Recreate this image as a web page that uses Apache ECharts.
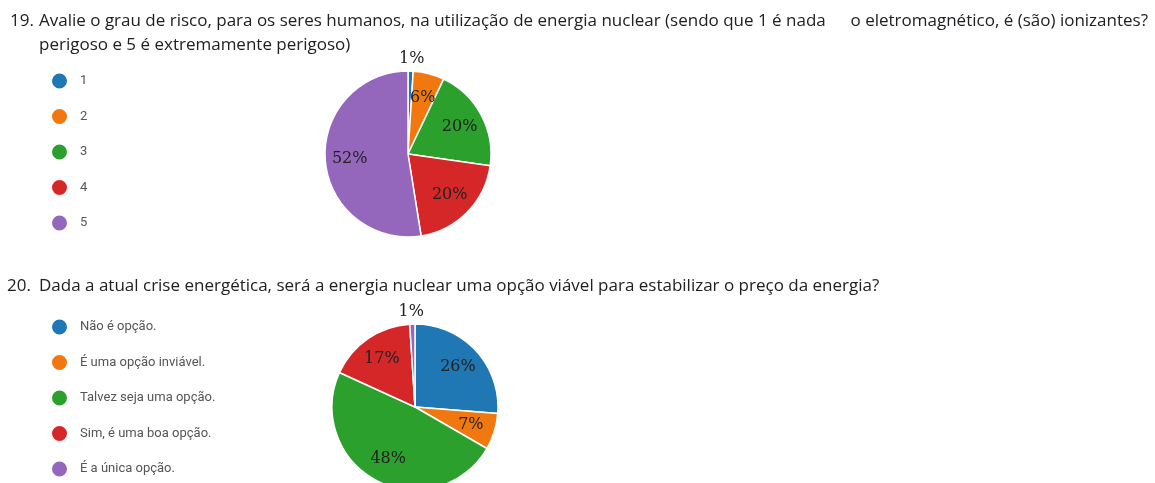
<!DOCTYPE html>
<html>
<head>
<meta charset="utf-8">
<script src="https://cdn.jsdelivr.net/npm/echarts@6/dist/echarts.min.js"></script>
<style>
  html, body { margin: 0; padding: 0; background: #fff; }
  #chart { width: 1155px; height: 483px; }
</style>
</head>
<body>
<div id="chart"></div>
<script>
// pergunta 19
var q19Labels = ['1', '2', '3', '4', '5'];
var q19Values = [1, 6, 20, 20, 52];
// pergunta 20
var q20Labels = ['Não é opção.', 'É uma opção inviável.', 'Talvez seja uma opção.', 'Sim, é uma boa opção.', 'É a única opção.'];
var q20Values = [26, 7, 48, 17, 1];

var colors = ['#1f77b4', '#f0780e', '#2ca02c', '#d62728', '#9467bd'];
var titleFont = '17px "Open Sans", "Noto Sans", sans-serif';
var labelFont = 'DejaVu Serif';

function toData(labels, values) {
  return labels.map(function (n, i) {
    return { name: n, value: values[i], itemStyle: { color: colors[i] } };
  });
}

// serie so para os rotulos (anel transparente, rotulos mais para fora)
function labelData(labels, values) {
  return labels.map(function (n, i) {
    var d = { name: n, value: values[i] };
    if (values[i] < 3) { // fatias pequenas: rotulo por fora, por cima
      d.label = { position: 'outside', distanceToLabelLine: -12 };
      d.labelLine = { show: false, length: 12, length2: 0 };
    }
    return d;
  });
}

function pieSeries(labels, values, center) {
  return {
    type: 'pie',
    center: center,
    radius: [0, 83],
    startAngle: 90,
    clockwise: true,
    silent: true,
    label: { show: false },
    labelLine: { show: false },
    itemStyle: { borderColor: '#fff', borderWidth: 1.5 },
    data: toData(labels, values)
  };
}

function pieLabels(labels, values, center) {
  return {
    type: 'pie',
    center: center,
    radius: [28, 83],
    startAngle: 90,
    clockwise: true,
    silent: true,
    avoidLabelOverlap: false,
    itemStyle: { color: 'transparent', borderWidth: 0 },
    label: {
      show: true,
      position: 'inside',
      color: '#222',
      fontFamily: labelFont,
      fontSize: 16,
      formatter: function (p) { return p.value + '%'; }
    },
    data: labelData(labels, values)
  };
}

function legendOpt(top, names) {
  return {
    orient: 'vertical',
    left: 50,
    top: top,
    height: 220,
    padding: 0,
    itemWidth: 17,
    itemHeight: 17,
    itemGap: 16.5,
    icon: 'circle',
    selectedMode: false,
    data: names,
    textStyle: { fontSize: 13, color: '#555', fontFamily: 'Roboto, sans-serif', padding: [0, 0, 0, 7] }
  };
}

var myChart = echarts.init(document.getElementById('chart'));
myChart.setOption({
  animation: false,
  color: colors,
  graphic: [
    { type: 'text', x: 10, y: 21, style: { text: '19.', font: titleFont, fill: '#202124', verticalAlign: 'middle' } },
    { type: 'text', x: 39, y: 21, style: { text: 'Avalie o grau de risco, para os seres humanos, na utilização de energia nuclear (sendo que 1 é nada', font: titleFont, fill: '#202124', verticalAlign: 'middle' } },
    { type: 'text', x: 1148, y: 21, style: { text: 'o eletromagnético, é (são) ionizantes?', font: titleFont, fill: '#202124', align: 'right', verticalAlign: 'middle' } },
    { type: 'text', x: 39, y: 45, style: { text: 'perigoso e 5 é extremamente perigoso)', font: titleFont, fill: '#202124', verticalAlign: 'middle' } },
    { type: 'text', x: 7, y: 286, style: { text: '20.', font: titleFont, fill: '#202124', verticalAlign: 'middle' } },
    { type: 'text', x: 39, y: 286, style: { text: 'Dada a atual crise energética, será a energia nuclear uma opção viável para estabilizar o preço da energia?', font: titleFont, fill: '#202124', verticalAlign: 'middle' } }
  ],
  legend: [
    legendOpt(71.5, q19Labels),
    legendOpt(317.5, q20Labels)
  ],
  series: [
    pieSeries(q19Labels, q19Values, [408, 154]),
    pieSeries(q20Labels, q20Values, [415, 407]),
    pieLabels(q19Labels, q19Values, [408, 154]),
    pieLabels(q20Labels, q20Values, [415, 407])
  ]
});
</script>
</body>
</html>
